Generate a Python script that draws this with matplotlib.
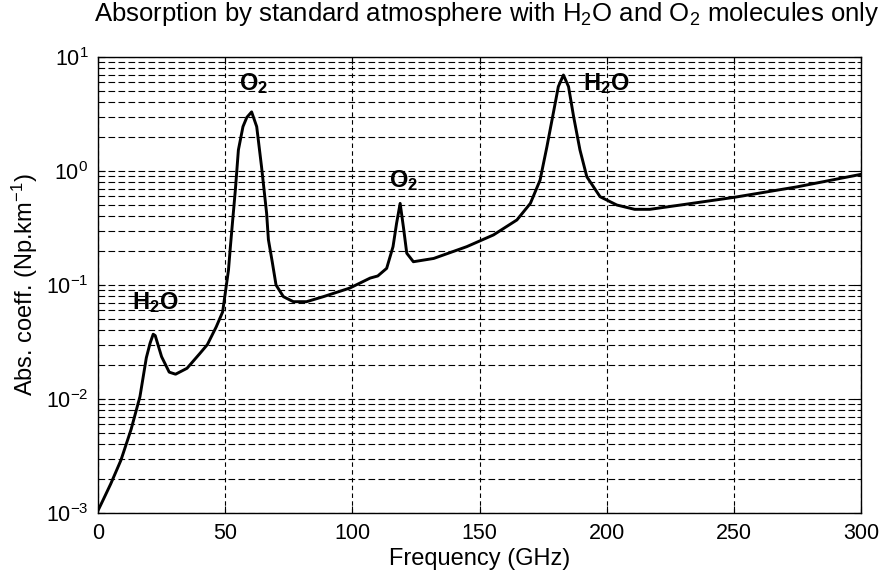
import matplotlib
matplotlib.use("Agg")
import matplotlib.pyplot as plt
from matplotlib.ticker import LogLocator, LogFormatterMathtext, MultipleLocator

plt.rcParams['font.family'] = ['Liberation Sans', 'DejaVu Sans']
plt.rcParams['mathtext.fontset'] = 'custom'
plt.rcParams['mathtext.rm'] = 'Liberation Sans'
plt.rcParams['mathtext.bf'] = 'Liberation Sans:bold'
plt.rcParams['mathtext.it'] = 'Liberation Sans:italic'
plt.rcParams['mathtext.default'] = 'regular'

# frequency (GHz) and absorption (Np/km)
freq = [0, 2, 5, 9, 13, 16.5, 19, 20.5, 21.7, 22.5, 25, 28, 30.5, 35, 40, 43,
        46.5, 49, 51.3, 52, 53, 54, 55.2, 57, 58.5, 60.4, 62.4, 64.3, 66.3,
        67, 68.5, 70, 72.9, 76.8, 82, 88.6, 99, 107, 110, 113.5, 116, 117.4,
        118.8, 120.1, 121.4, 124, 132, 145, 155.5, 164.7, 170, 173.8, 176.5,
        179, 181, 183, 185, 187, 189.5, 192.2, 197.4, 204, 211, 217, 229,
        250, 275, 300]
absorb = [0.00105, 0.0013, 0.0018, 0.0029, 0.0054, 0.0105, 0.023, 0.031,
          0.037, 0.036, 0.0235, 0.0172, 0.0165, 0.0186, 0.025, 0.030, 0.043,
          0.058, 0.135, 0.21, 0.38, 0.68, 1.53, 2.45, 2.95, 3.3, 2.45, 1.09,
          0.425, 0.25, 0.16, 0.10, 0.079, 0.0714, 0.0714, 0.079, 0.094, 0.115,
          0.12, 0.14, 0.217, 0.348, 0.52, 0.32, 0.19, 0.16, 0.171, 0.217,
          0.275, 0.372, 0.52, 0.83, 1.63, 3.2, 5.5, 6.95, 5.5, 3.0, 1.53,
          0.89, 0.595, 0.503, 0.461, 0.461, 0.503, 0.587, 0.727, 0.935]

# line labels: (text, x, y)
labels = [(r'$\mathbf{H_2O}$', 13.5, 0.07),
          (r'$\mathbf{O_2}$', 55.5, 5.9),
          (r'$\mathbf{O_2}$', 114.5, 0.83),
          (r'$\mathbf{H_2O}$', 190.5, 5.9)]

fig = plt.figure(figsize=(8.84, 5.78), dpi=100)
ax = fig.add_axes([98/884, 1 - 513/578, 763/884, 456/578])

ax.plot(freq, absorb, color='black', linewidth=2.1)
ax.set_yscale('log')
ax.set_xlim(0, 300)
ax.set_ylim(1e-3, 1e1)
ax.xaxis.set_major_locator(MultipleLocator(50))
ax.yaxis.set_major_locator(LogLocator(base=10, numticks=10))
ax.yaxis.set_minor_locator(LogLocator(base=10, subs=range(2, 10), numticks=20))
ax.yaxis.set_major_formatter(LogFormatterMathtext())

ax.grid(True, which='both', axis='y', color='black', linestyle=(0, (6, 3)), linewidth=0.8)
ax.grid(True, which='major', axis='x', color='black', linestyle=(0, (4, 3)), linewidth=0.8)

ax.tick_params(which='both', direction='in', top=True, right=True, labelsize=15.5)
ax.tick_params(which='major', length=5, pad=7)
ax.tick_params(which='minor', length=3)
for s in ax.spines.values():
    s.set_linewidth(1.0)

for txt, x, y in labels:
    ax.text(x, y, txt, fontsize=17, va='center', ha='left')

ax.set_title(r'Absorption by standard atmosphere with H$_2$O and O$_2$ molecules only',
             fontsize=18.5, pad=26, x=0.51)
ax.set_xlabel('Frequency (GHz)', fontsize=17, labelpad=3)
ax.set_ylabel(r'Abs. coeff. (Np.km$^{-1}$)', fontsize=17, labelpad=4)

fig.savefig('out.png', dpi=100)
